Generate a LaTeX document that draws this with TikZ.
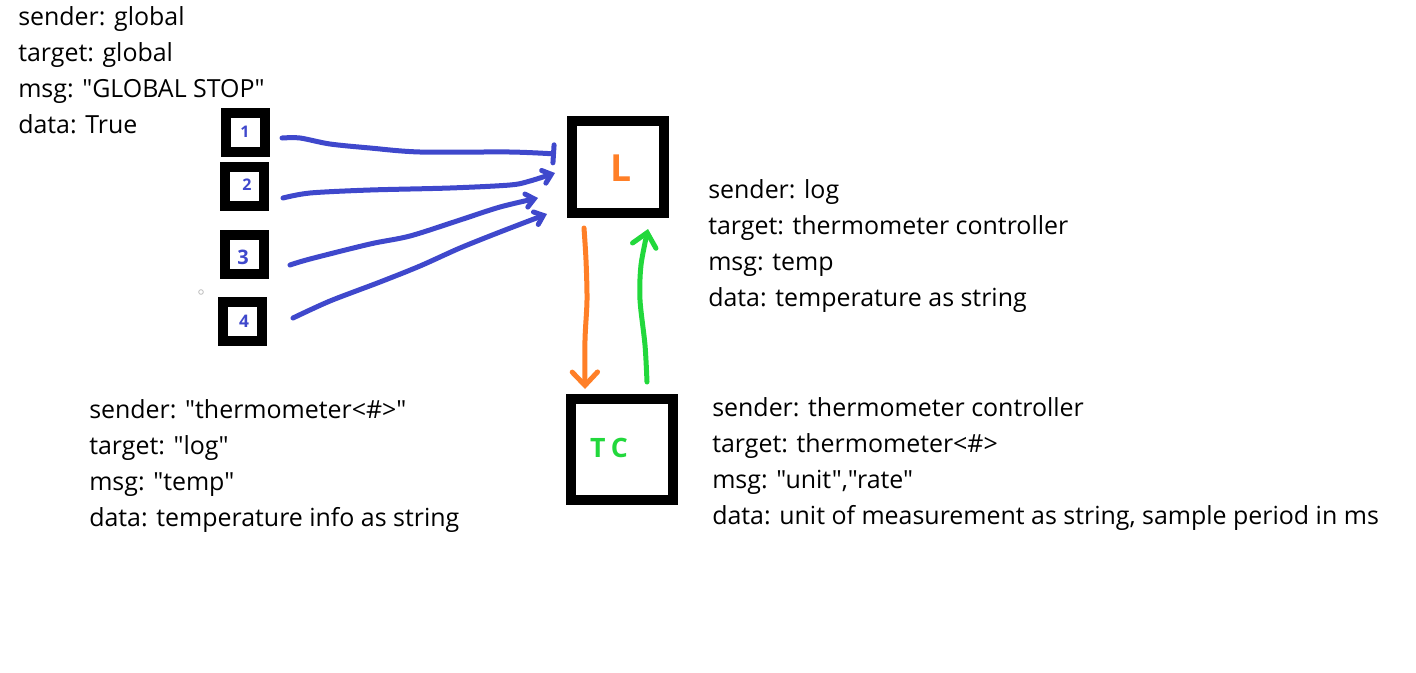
\documentclass[tikz,border=0pt]{standalone}
\usepackage{fontspec}
\setmainfont{Open Sans}[Ligatures=TeXOff]
\usetikzlibrary{arrows.meta}
\definecolor{inkblue}{HTML}{3F48CC}
\definecolor{inkorange}{HTML}{FF7F27}
\definecolor{inkgreen}{HTML}{22D83C}
\tikzset{
  sbox/.style={draw=black, line width=7.5pt, minimum width=29.25pt, minimum height=29.25pt, inner sep=0pt, fill=white},
  bbox/.style={draw=black, line width=7.5pt, inner sep=0pt, fill=white},
  info/.style={anchor=base west, inner sep=0pt, font=\fontsize{18.7}{27}\selectfont},
  ink/.style={line width=3.75pt, line cap=round, line join=round},
  hand/.style={inner sep=0pt, font=\bfseries},
}
\begin{document}
\begin{tikzpicture}[x=0.75pt,y=-0.75pt]
\useasboundingbox (0,0) rectangle (1416,672);
% small boxes
\node[sbox] (b1) at (245.5,132.5) {};
\node[sbox] (b2) at (244.5,186.5) {};
\node[sbox] (b3) at (244.5,254.5) {};
\node[sbox] (b4) at (242.5,321.5) {};
\node[bbox, minimum width=69pt, minimum height=69pt] (L) at (618,167) {};
\node[bbox, minimum width=76.5pt, minimum height=75.75pt] (TC) at (622,449.5) {};
% handwritten labels
\node[hand, text=inkblue, font=\bfseries\fontsize{12}{12}\selectfont] (l1) at (245,132) {1};
\node[hand, text=inkblue, font=\bfseries\fontsize{12}{12}\selectfont] (l2) at (247,185) {2};
\node[hand, text=inkblue, font=\bfseries\fontsize{15}{15}\selectfont] (l3) at (243,257) {3};
\node[hand, text=inkblue, font=\bfseries\fontsize{13}{13}\selectfont] (l4) at (244,321) {4};
\node[hand, text=inkorange, font=\bfseries\fontsize{28}{28}\selectfont] (lL) at (621,168) {L};
\node[hand, text=inkgreen, font=\bfseries\fontsize{20}{20}\selectfont] (lTC) at (609,448) {T\hspace{4pt}C};
% tiny dot
\node[circle, draw=gray!50, line width=0.6pt, minimum size=3.5pt, inner sep=0pt] (dot) at (201,292) {};
% blue arrows
\coordinate (s1) at (282,138); \coordinate (e1) at (556,154);
\coordinate (s2) at (283,198); \coordinate (e2) at (555,173);
\coordinate (s3) at (290,265); \coordinate (e3) at (538,198);
\coordinate (s4) at (293,318); \coordinate (e4) at (547,214);
\draw[ink, inkblue, -{Bar[width=13.5pt, line cap=round]}] plot[smooth, tension=0.5] coordinates {(s1) (300,138) (330,144) (370,148) (420,152) (510,152) (e1)};
\draw[ink, inkblue, -{Straight Barb[length=6pt, width=10pt, line cap=round]}] plot[smooth, tension=0.5] coordinates {(s2) (310,193) (370,190) (450,188) (510,185) (530,181) (e2)};
\draw[ink, inkblue, -{Straight Barb[length=6pt, width=10pt, line cap=round]}] plot[smooth, tension=0.5] coordinates {(s3) (310,259) (370,244) (410,236) (460,220) (500,207) (e3)};
\draw[ink, inkblue, -{Straight Barb[length=6pt, width=10pt, line cap=round]}] plot[smooth, tension=0.5] coordinates {(s4) (330,301) (380,282) (420,266) (460,248) (500,232) (e4)};
% orange and green arrows
\coordinate (o1) at (584,228); \coordinate (o2) at (585,389);
\coordinate (g1) at (647,382); \coordinate (g2) at (648,229);
\draw[ink, inkorange, -{Straight Barb[length=10pt, width=19pt, line cap=round]}] plot[smooth, tension=0.5] coordinates {(o1) (586,260) (587,300) (585,340) (o2)};
\draw[ink, inkgreen, -{Straight Barb[length=10pt, width=18pt, line cap=round]}] plot[smooth, tension=0.5] coordinates {(g1) (645,345) (640,300) (641,265) (g2)};
% texts
\node[info] (t1) at (18,25) {sender: global};
\node[info] (t2) at (18,61) {target: global};
\node[info] (t3) at (18,97) {msg: "GLOBAL STOP"};
\node[info] (t4) at (18,133) {data: True};
\node[info] (r1) at (708,198) {sender: log};
\node[info] (r2) at (708,234) {target: thermometer controller};
\node[info] (r3) at (708,270) {msg: temp};
\node[info] (r4) at (708,306) {data: temperature as string};
\node[info] (p1) at (89,418) {sender: "thermometer<\#>"};
\node[info] (p2) at (89,454) {target: "log"};
\node[info] (p3) at (89,490) {msg: "temp"};
\node[info] (p4) at (89,526) {data: temperature info as string};
\node[info] (q1) at (712,416) {sender: thermometer controller};
\node[info] (q2) at (712,452) {target: thermometer<\#>};
\node[info] (q3) at (712,488) {msg: "unit","rate"};
\node[info] (q4) at (712,524) {data: unit of measurement as string, sample period in ms};
\end{tikzpicture}
\end{document}
